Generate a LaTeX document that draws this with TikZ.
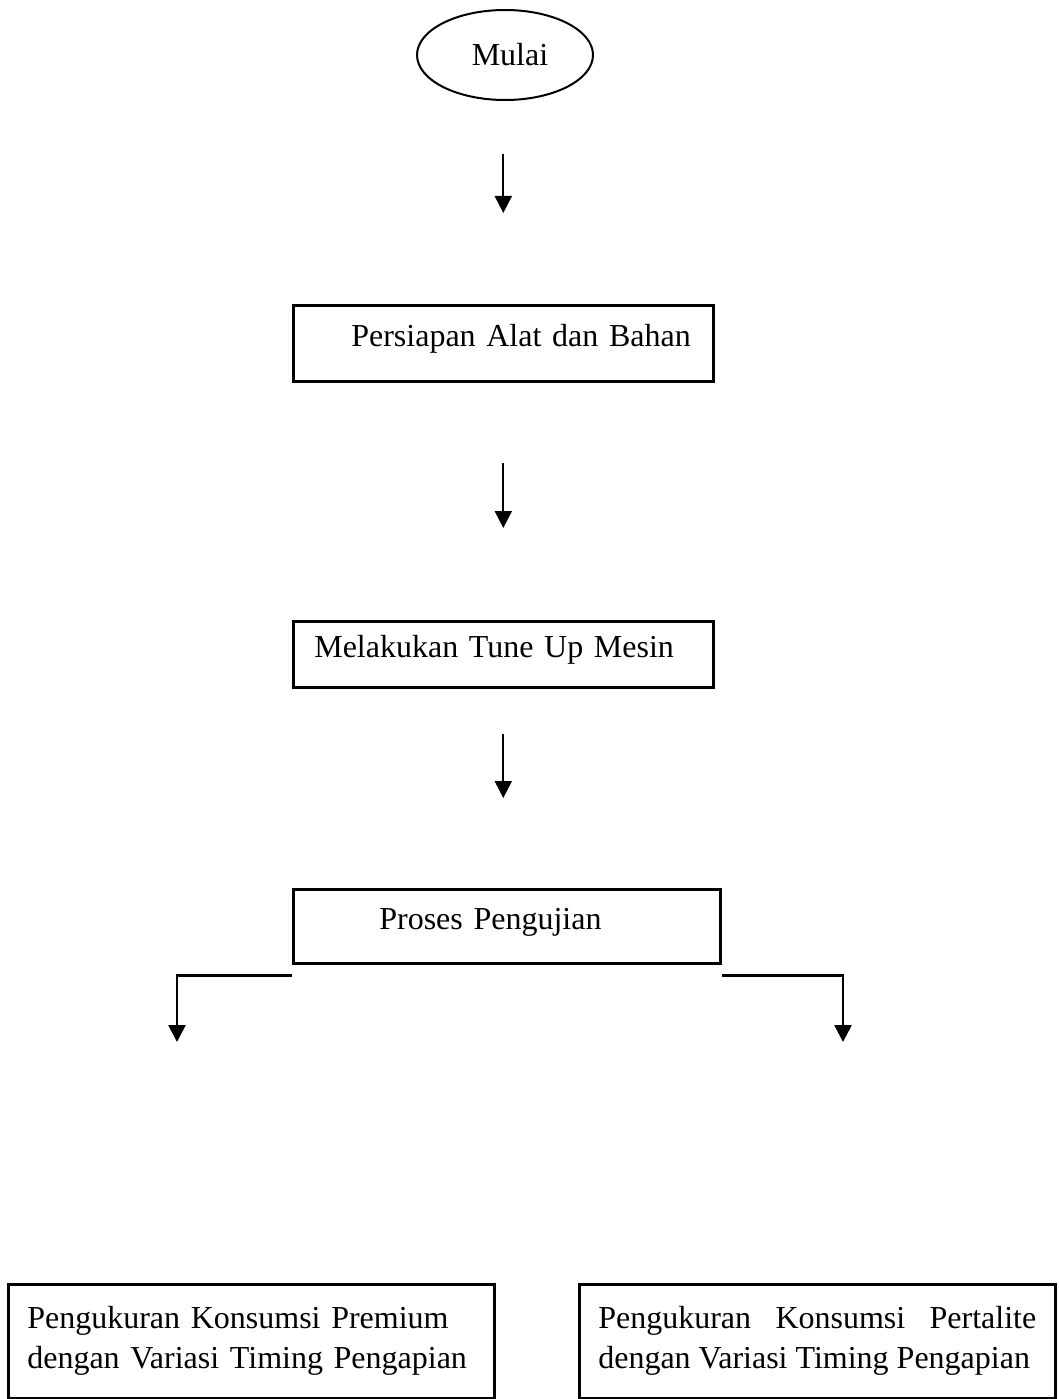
\documentclass[tikz,border=0pt]{standalone}
\usepackage{fontspec}
\setmainfont{Liberation Serif}
\usetikzlibrary{shapes.geometric,arrows.meta}

\tikzset{
  kotak/.style={draw, line width=2.6pt, anchor=north west, align=left,
    inner xsep=0pt, text height=23pt, text depth=17pt},
  hasil/.style={draw, line width=2.6pt, anchor=north west, inner xsep=19pt},
  panah/.style={-{Triangle[width=17pt,length=17pt]}, line width=2pt},
  cabang/.style={-{Triangle[width=17pt,length=17pt]}, line width=2.6pt}
}

\begin{document}
\begin{tikzpicture}[x=1pt,y=-1pt,font=\fontsize{32}{40}\selectfont]
        \clip (0,0) rectangle (1058,1399);
        \fill[white] (0,0) rectangle (1058,1399);

        % awal
        \node[draw, ellipse, line width=2pt, minimum width=176pt, minimum height=90pt,
            inner sep=0pt] (mulai) at (505,55) {\hspace*{10pt}Mulai};

        % tahapan
        \node[kotak, text width=420pt, minimum height=76pt] (alat) at (292,304)
            {\hspace*{58pt}Persiapan Alat dan Bahan};
        \node[kotak, text width=420pt, minimum height=66pt] (mesin) at (292,620)
            {\hspace*{21pt}Melakukan Tune Up Mesin};
        \node[kotak, text width=427pt, minimum height=74pt] (uji) at (292,888)
            {\hspace*{86pt}Proses Pengujian};

        % hasil pengukuran
        \node[hasil, text width=448pt, minimum height=114pt, align=left] (premium) at (7,1283)
            {Pengukuran Konsumsi Premium\\dengan Variasi Timing Pengapian};
        \node[hasil, text width=438pt, minimum height=114pt, align=justify] (pertalite) at (578,1283)
            {Pengukuran Konsumsi Pertalite\linebreak dengan Variasi Timing Pengapian};

        % panah
        \draw[panah, shorten <=53pt, shorten >=91pt] (mulai.south -| alat.north) -- (alat.north);
        \draw[panah, shorten <=80pt, shorten >=92pt] (alat.south) -- (mesin.north);
        \draw[panah, shorten <=45pt, shorten >=90pt] (mesin.south) -- (mesin.south |- uji.north);

        \coordinate (ujungkiri) at (177,1042);
        \coordinate (ujungkanan) at (843,1042);
        \draw[cabang] ([yshift=-11pt]uji.south west) -| (ujungkiri);
        \draw[cabang] ([yshift=-11pt]uji.south east) -| (ujungkanan);
\end{tikzpicture}
\end{document}
